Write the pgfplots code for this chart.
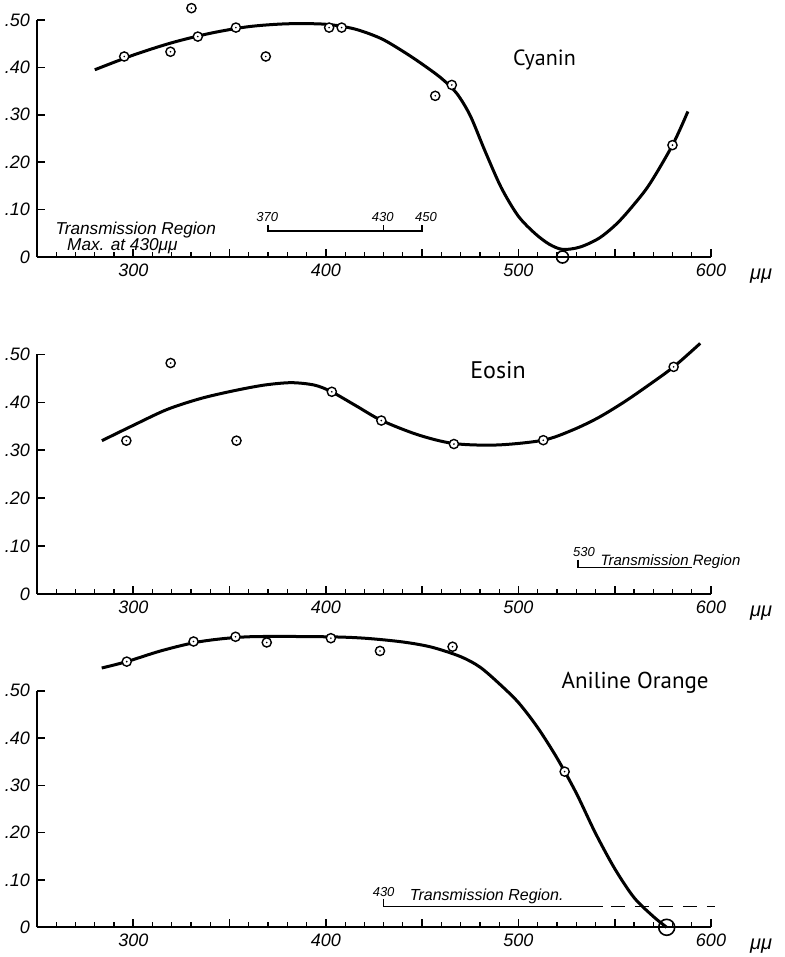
\documentclass[border=0pt]{standalone}
\usepackage{fontspec}
\setmainfont{Liberation Sans}
\newfontfamily\titlefont{PT Sans}
\usepackage{pgfplots}
\pgfplotsset{compat=1.18}

\pgfdeclareplotmark{odot}{%
  \pgfpathcircle{\pgfpointorigin}{\pgfplotmarksize}\pgfusepathqfillstroke
  \pgfscope\pgfsetfillcolor{black}%
  \pgfpathcircle{\pgfpointorigin}{0.45pt}\pgfusepathqfill\endpgfscope}

\pgfplotsset{
  panel/.style={
    scale only axis, width=337pt, xmin=250, xmax=600, ymin=0, ymax=0.5,
    axis x line=bottom, axis y line=left, axis line style={-, line width=0.9pt},
    clip=false, tick align=inside,
    xtick={300,350,400,450,500,550,600},
    xticklabels={\textit{300},,\textit{400},,\textit{500},,\textit{600}},
    minor xtick={260,270,280,290,310,320,330,340,360,370,380,390,410,420,430,440,460,470,480,490,510,520,530,540,560,570,580,590},
    ytick={0,0.1,0.2,0.3,0.4,0.5},
    yticklabels={\textit{0},\textit{.10},\textit{.20},\textit{.30},\textit{.40},\textit{.50}},
    major tick length=4pt, minor tick length=2.5pt,
    major tick style={line width=0.8pt, black},
    minor tick style={line width=0.6pt, black},
    tick label style={font=\fontsize{9}{10}\selectfont\itshape},
  },
  curve/.style={black, line width=1.5pt, smooth, no marks},
  pts/.style={only marks, mark=odot, mark size=2.3pt, mark options={line width=0.7pt, draw=black, fill=white}},
  bar/.style={black, line width=0.7pt, no marks, sharp plot},
}

\begin{document}
\begin{tikzpicture}
\path[use as bounding box] (0,0) rectangle (392.5pt,-478.5pt);

% ---------------- Cyanin ----------------
\begin{axis}[panel, at={(18.5pt,-128.5pt)}, height=118.5pt]
\addplot[curve] coordinates {(280,0.395)(300,0.426)(320,0.452)(340,0.472)(360,0.486)(380,0.492)(400,0.491)(415,0.481)(428.6,0.461)(440,0.434)(450,0.407)(460,0.377)(468,0.345)(475,0.298)(482.5,0.225)(491,0.147)(499.8,0.087)(508.5,0.05)(516,0.027)(523,0.016)(532,0.021)(542,0.04)(551,0.07)(559,0.106)(568,0.153)(580,0.236)(588,0.307)};
\addplot[pts] coordinates {(295.3,0.423)(319.3,0.433)(330.2,0.525)(333.5,0.465)(353.3,0.484)(368.8,0.423)(401.7,0.484)(408.2,0.484)(456.8,0.340)(465.4,0.363)(580,0.236)};
\addplot[only marks, mark=o, mark size=3pt, mark options={line width=0.8pt, black}] coordinates {(522.9,0.0)};
\addplot[bar] coordinates {(370,0.068)(370,0.055)(450,0.055)(450,0.068)};
\addplot[bar] coordinates {(430,0.055)(430,0.068)};
\node[font=\fontsize{6.5}{7}\selectfont\itshape] at (axis cs:369.6,0.084) {370};
\node[font=\fontsize{6.5}{7}\selectfont\itshape] at (axis cs:429.5,0.084) {430};
\node[font=\fontsize{6.5}{7}\selectfont\itshape] at (axis cs:452,0.084) {450};
\node[anchor=west, font=\fontsize{8.6}{9.5}\selectfont\itshape] at (axis cs:256,0.057) {Transmission Region};
\node[anchor=west, font=\fontsize{8.6}{9.5}\selectfont\itshape] at (axis cs:262,0.023) {Max. at 430μμ};
\node[font=\titlefont\fontsize{11}{12}\selectfont] at (axis cs:513.5,0.416) {Cyanin};
\node[anchor=north west, font=\fontsize{10}{11}\selectfont\itshape] at ([xshift=16pt,yshift=-2.5pt]axis cs:600,0) {μμ};
\end{axis}

% ---------------- Eosin ----------------
\begin{axis}[panel, at={(18.5pt,-297pt)}, height=119.8pt]
\addplot[curve] coordinates {(283.7,0.32)(300,0.352)(317.5,0.385)(335,0.408)(352,0.424)(368,0.436)(382,0.441)(394,0.436)(403,0.422)(416,0.392)(429,0.362)(448,0.332)(466.5,0.314)(489,0.311)(512.9,0.321)(528,0.342)(541.5,0.368)(555,0.401)(568,0.437)(580.6,0.474)(594.4,0.523)};
\addplot[pts] coordinates {(296.4,0.320)(319.4,0.482)(353.6,0.320)(403.1,0.422)(428.8,0.362)(466.5,0.313)(512.9,0.321)(580.6,0.474)};
\addplot[bar] coordinates {(531,0.072)(531,0.055)(590,0.055)};
\node[font=\fontsize{6.5}{7}\selectfont\itshape] at (axis cs:534,0.088) {530};
\node[anchor=west, font=\fontsize{7.5}{8}\selectfont\itshape] at (axis cs:539,0.068) {Transmission Region};
\node[font=\titlefont\fontsize{12}{13}\selectfont] at (axis cs:489.4,0.468) {Eosin};
\node[anchor=north west, font=\fontsize{10}{11}\selectfont\itshape] at ([xshift=16pt,yshift=-2.5pt]axis cs:600,0) {μμ};
\end{axis}

% ---------------- Aniline Orange ----------------
\begin{axis}[panel, at={(18.5pt,-463.65pt)}, height=118.3pt]
\addplot[curve] coordinates {(283.6,0.548)(296.6,0.5615)(315,0.585)(335,0.604)(360,0.614)(400,0.614)(420,0.611)(440,0.603)(455,0.592)(470,0.572)(480,0.55)(490,0.515)(500,0.475)(510,0.422)(520,0.358)(530,0.284)(540,0.199)(550,0.124)(560,0.063)(570,0.023)(577,0.0)};
\addplot[pts] coordinates {(296.6,0.5615)(331.3,0.604)(353.1,0.614)(369.3,0.602)(402.6,0.611)(428.1,0.584)(465.8,0.593)(524,0.329)};
\addplot[only marks, mark=o, mark size=4pt, mark options={line width=0.8pt, black}] coordinates {(577,0.0)};
\addplot[bar] coordinates {(430,0.06)(430,0.044)(544,0.044)};
\addplot[bar, dash pattern=on 7pt off 5pt, line width=0.8pt] coordinates {(548,0.044)(602,0.044)};
\node[font=\fontsize{6.5}{7}\selectfont\itshape] at (axis cs:430,0.075) {430};
\node[anchor=west, font=\fontsize{8}{9}\selectfont\itshape] at (axis cs:440,0.066) {Transmission Region.};
\node[font=\titlefont\fontsize{11.5}{12}\selectfont] at (axis cs:560.6,0.516) {Aniline Orange};
\node[anchor=north west, font=\fontsize{10}{11}\selectfont\itshape] at ([xshift=16pt,yshift=-2.5pt]axis cs:600,0) {μμ};
\end{axis}
\end{tikzpicture}
\end{document}
